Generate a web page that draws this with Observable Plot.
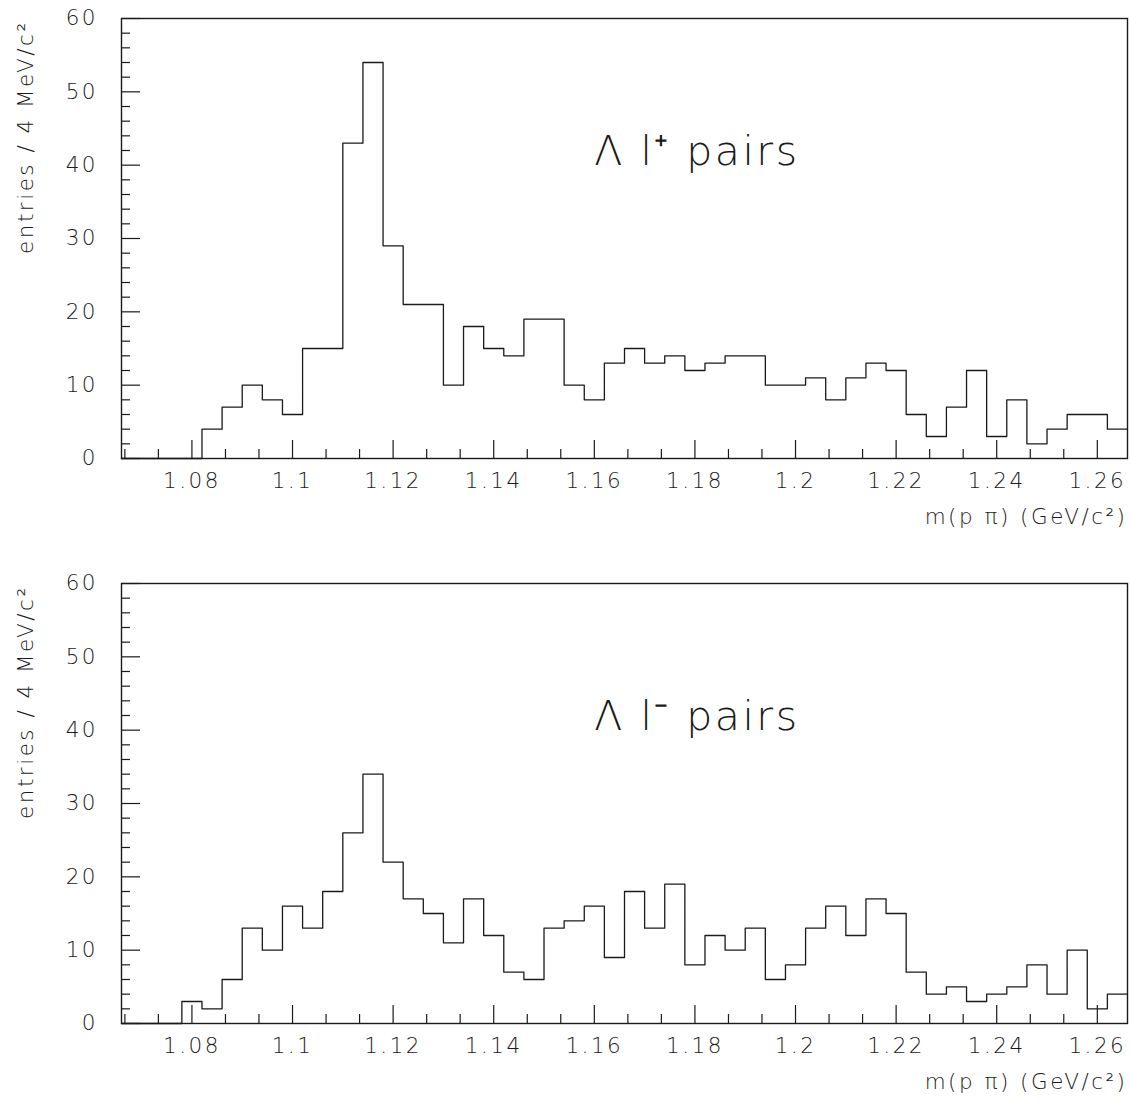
<!DOCTYPE html>
<html>
<head>
<meta charset="utf-8">
<script src="https://cdn.jsdelivr.net/npm/d3@7"></script>
<script src="https://cdn.jsdelivr.net/npm/@observablehq/plot@0.6"></script>
<style>
  body { margin: 0; background: #fff; }
  #chart svg { display: block; }
</style>
</head>
<body>
<div id="chart"></div>
<script>
// ---- data ----
const binStart = 1.066;   // GeV/c^2, left edge of first bin
const binWidth = 0.004;   // 4 MeV/c^2
const plusCounts = [0,0,0,0,4,7,10,8,6,15,15,43,54,29,21,21,10,18,15,14,19,19,10,8,13,15,13,14,12,13,14,14,10,10,11,8,11,13,12,6,3,7,12,3,8,2,4,6,6,4];
const minusCounts = [0,0,0,3,2,6,13,10,16,13,18,26,34,22,17,15,11,17,12,7,6,13,14,16,9,18,13,19,8,12,10,13,6,8,13,16,12,17,15,7,4,5,3,4,5,8,4,10,2,4];
const xMajorTicks = [1.08,1.1,1.12,1.14,1.16,1.18,1.2,1.22,1.24,1.26];
const xMinorTicks = [1.06667,1.07333,1.08667,1.09333,1.10667,1.11333,1.12667,1.13333,1.14667,1.15333,1.16667,1.17333,1.18667,1.19333,1.20667,1.21333,1.22667,1.23333,1.24667,1.25333];
const yMajorTicks = [0,10,20,30,40,50,60];
const yMinorTicks = [2,4,6,8,12,14,16,18,22,24,26,28,32,34,36,38,42,44,46,48,52,54,56,58];
const xDomain = [1.066, 1.266];
const yDomain = [0, 60];
const yTitle = "entries / 4 MeV/c\u00B2";
const xTitle = "m(p \u03C0) (GeV/c\u00B2)";
const panelLabels = [
  {x: 1.16, y: 40, text: "\u039B l\u207A pairs"},
  {x: 1.16, y: 40, text: "\u039B l\u207B pairs"}
];

const FONT = "'DejaVu Sans', sans-serif";
const FS = 21.5;
const W = 1131, ML = 121, MR = 4, PH = 440;
const PW = W - ML - MR;
const INK = "#1a1a1a";

function histPoints(counts) {
  const pts = counts.map((c, i) => ({x: binStart + i * binWidth, y: c}));
  pts.push({x: binStart + counts.length * binWidth, y: counts[counts.length - 1]});
  return pts;
}

function panel(counts, label, height, marginTop) {
  return Plot.plot({
    width: W, height,
    marginLeft: ML, marginRight: MR, marginTop, marginBottom: height - marginTop - PH,
    x: {domain: xDomain},
    y: {domain: yDomain},
    style: {fontFamily: FONT, fontWeight: 200, letterSpacing: "2.5px", color: INK, background: "#fff"},
    marks: [
      Plot.tickX(xMajorTicks, {x: d => d, insetTop: PH - 18, stroke: INK, strokeWidth: 1.2}),
      Plot.tickX(xMinorTicks, {x: d => d, insetTop: PH - 9, stroke: INK, strokeWidth: 1.2}),
      Plot.tickY(yMajorTicks, {y: d => d, insetRight: PW - 19, stroke: INK, strokeWidth: 1.2}),
      Plot.tickY(yMinorTicks, {y: d => d, insetRight: PW - 9, stroke: INK, strokeWidth: 1.2}),
      Plot.axisX(xMajorTicks, {tickSize: 0, tickPadding: 14, fontSize: FS, label: null, fill: INK,
        tickFormat: d => String(+d.toFixed(2))}),
      Plot.axisY(yMajorTicks, {tickSize: 0, tickPadding: 23.5, fontSize: FS, label: null, fill: INK}),
      Plot.line(histPoints(counts), {x: "x", y: "y", curve: "step-after", stroke: INK, strokeWidth: 1.3}),
      Plot.frame({stroke: INK, strokeWidth: 1.4}),
      Plot.text([label], {x: "x", y: "y", text: "text", textAnchor: "start", lineAnchor: "bottom",
        fontSize: 41, fill: INK}),
      Plot.text([xTitle], {frameAnchor: "bottom-right", dy: 65, textAnchor: "end", fontSize: FS, fill: INK}),
      Plot.text([yTitle], {frameAnchor: "top-left", rotate: -90, dx: -104, dy: 2, textAnchor: "end", fontSize: FS, fill: INK})
    ]
  });
}

const el = document.getElementById("chart");
el.appendChild(panel(plusCounts, panelLabels[0], 566, 18));
el.appendChild(panel(minusCounts, panelLabels[1], 537, 17));
</script>
</body>
</html>
